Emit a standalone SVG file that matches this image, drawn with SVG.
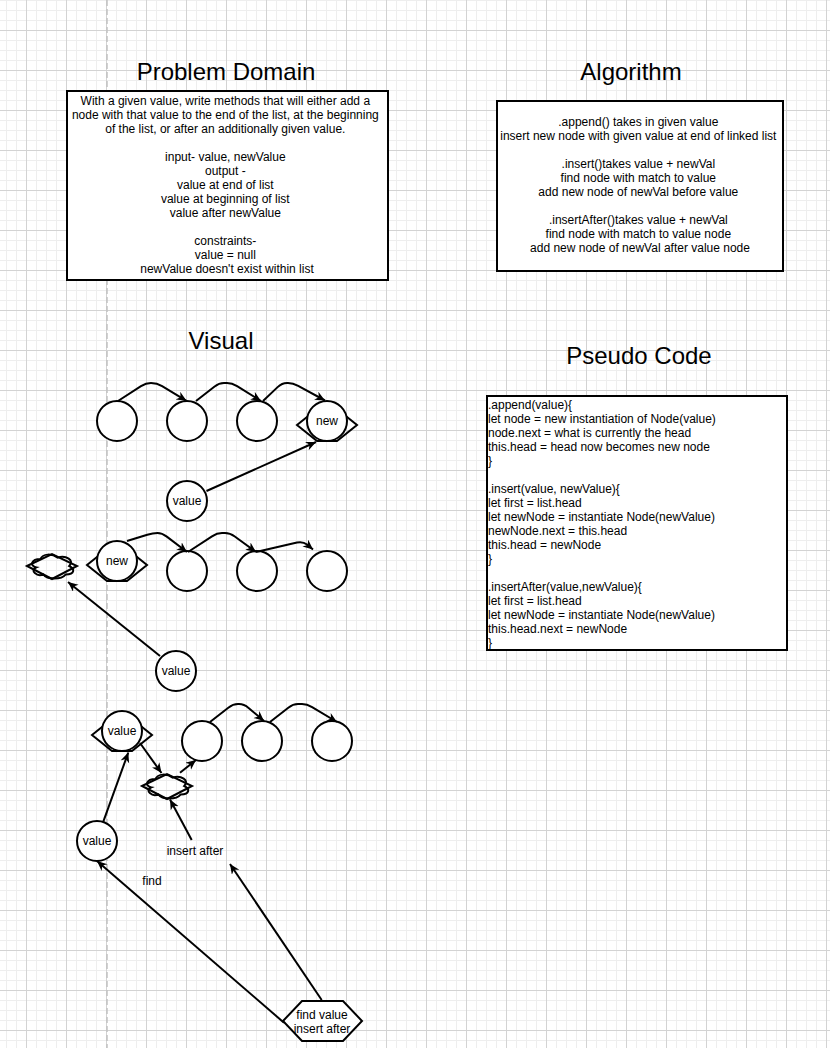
<svg xmlns="http://www.w3.org/2000/svg" width="830" height="1048" viewBox="0 0 830 1048">
<style>
text{font-family:"Liberation Sans",Arial,Helvetica,sans-serif;fill:#000}
.t{font-size:24px;text-anchor:middle}
.b{font-size:12px;text-anchor:middle}
.l{font-size:12px;text-anchor:start}
.box{fill:#fff;stroke:#000;stroke-width:2}
.n{fill:#fff;stroke:#000;stroke-width:2}
.e{fill:none;stroke:#000;stroke-width:2}
.a{fill:none;stroke:#000;stroke-width:2;marker-end:url(#arr)}
</style>
<defs>
<pattern id="grid" width="40" height="40" patternUnits="userSpaceOnUse" x="26" y="30">
<rect width="40" height="40" fill="#fff"/>
<path d="M10.5,0V40M20.5,0V40M30.5,0V40M0,10.5H40M0,20.5H40M0,30.5H40" stroke="#eeeeee" stroke-width="1"/>
<path d="M0.5,0V40M0,0.5H40" stroke="#d3d3d3" stroke-width="1"/>
</pattern>
<marker id="arr" markerUnits="userSpaceOnUse" markerWidth="12" markerHeight="10" refX="10" refY="4.5" orient="auto">
<path d="M0,0 L10,4.5 L0,9 L3,4.5 Z" fill="#000"/>
</marker>
<g id="hex">
<polygon class="e" points="-30,4 -10,-12 10,-12 30,4 10,20 -10,20" fill="#fff"/>
</g>
<g id="cloudrh">
<path class="e" fill="#fff" d="M-11.5,-7 C-20.7,-7 -23,0 -15.6,1.4 C-23,4.5 -14.7,11.2 -8.7,8.4 C-4.6,14 9.2,14 13.8,8.4 C23,8.4 23,2.8 17.25,0 C23,-5.6 13.8,-11.2 5.75,-8.4 C0,-12.6 -9.2,-12.6 -11.5,-7 Z"/>
<polygon class="e" points="-25,0 0,-12 25,0 0,13"/>
</g>
</defs>
<rect width="830" height="1048" fill="url(#grid)"/>
<line x1="107" y1="0" x2="107" y2="1048" stroke="#c2c2c2" stroke-width="1.5" stroke-dasharray="6 3"/>

<g id="titles">
<text class="t" x="226" y="80">Problem Domain</text>
<text class="t" x="631" y="80">Algorithm</text>
<text class="t" x="221" y="349">Visual</text>
<text class="t" x="639" y="364">Pseudo Code</text>
</g>

<g id="problem-domain">
<rect class="box" x="67" y="91" width="321" height="189"/>
<text class="b" x="227">
<tspan x="227" y="105">With a given value, write methods that will either add a</tspan>
<tspan x="227" y="119">node with that value to the end of the list, at the beginning</tspan>
<tspan x="227" y="133">of the list, or after an additionally given value.</tspan>
<tspan x="227" y="161">input- value, newValue</tspan>
<tspan x="227" y="175">output -</tspan>
<tspan x="227" y="189">value at end of list</tspan>
<tspan x="227" y="203">value at beginning of list</tspan>
<tspan x="227" y="217">value after newValue</tspan>
<tspan x="227" y="245">constraints-</tspan>
<tspan x="227" y="259">value = null</tspan>
<tspan x="227" y="273">newValue doesn't exist within list</tspan>
</text>
</g>

<g id="algorithm">
<rect class="box" x="497" y="101" width="286" height="170"/>
<text class="b">
<tspan x="640" y="126">.append() takes in given value</tspan>
<tspan x="640" y="140">insert new node with given value at end of linked list</tspan>
<tspan x="640" y="168">.insert()takes value + newVal</tspan>
<tspan x="640" y="182">find node with match to value</tspan>
<tspan x="640" y="196">add new node of newVal before value</tspan>
<tspan x="640" y="224">.insertAfter()takes value + newVal</tspan>
<tspan x="640" y="238">find node with match to value node</tspan>
<tspan x="640" y="252">add new node of newVal after value node</tspan>
</text>
</g>

<g id="pseudo-code">
<rect class="box" x="487" y="396" width="300" height="254"/>
<text class="l">
<tspan x="488" y="409">.append(value){</tspan>
<tspan x="488" y="423">let node = new instantiation of Node(value)</tspan>
<tspan x="488" y="437">node.next = what is currently the head</tspan>
<tspan x="488" y="451">this.head = head now becomes new node</tspan>
<tspan x="488" y="465">}</tspan>
<tspan x="488" y="493">.insert(value, newValue){</tspan>
<tspan x="488" y="507">let first = list.head</tspan>
<tspan x="488" y="521">let newNode = instantiate Node(newValue)</tspan>
<tspan x="488" y="535">newNode.next = this.head</tspan>
<tspan x="488" y="549">this.head = newNode</tspan>
<tspan x="488" y="563">}</tspan>
<tspan x="488" y="591">.insertAfter(value,newValue){</tspan>
<tspan x="488" y="605">let first = list.head</tspan>
<tspan x="488" y="619">let newNode = instantiate Node(newValue)</tspan>
<tspan x="488" y="633">this.head.next = newNode</tspan>
<tspan x="488" y="647">}</tspan>
</text>
</g>

<g id="row1">
<g id="r1n1"><circle class="n" cx="117" cy="421" r="20"/></g>
<g id="r1n2"><circle class="n" cx="187" cy="421" r="20"/></g>
<g id="r1n3"><circle class="n" cx="257" cy="421" r="20"/></g>
<g id="r1new"><use href="#hex" x="327" y="421"/><circle class="n" cx="327" cy="421" r="20"/><text class="b" x="327" y="425">new</text></g>
<g id="r1value"><circle class="n" cx="187" cy="501" r="20"/><text class="b" x="187" y="505">value</text></g>
</g>

<g id="row2">
<g id="r2cloud"><use href="#cloudrh" x="52" y="566"/></g>
<g id="r2new"><use href="#hex" x="117" y="561"/><circle class="n" cx="117" cy="561" r="20"/><text class="b" x="117" y="565">new</text></g>
<g id="r2n2"><circle class="n" cx="187" cy="571" r="20"/></g>
<g id="r2n3"><circle class="n" cx="257" cy="571" r="20"/></g>
<g id="r2n4"><circle class="n" cx="327" cy="571" r="20"/></g>
<g id="r2value"><circle class="n" cx="176" cy="671" r="20"/><text class="b" x="176" y="675">value</text></g>
</g>

<g id="row3">
<g id="r3value"><use href="#hex" x="122" y="731"/><circle class="n" cx="122" cy="731" r="20"/><text class="b" x="122" y="735">value</text></g>
<g id="r3n1"><circle class="n" cx="202" cy="741" r="20"/></g>
<g id="r3n2"><circle class="n" cx="262" cy="741" r="20"/></g>
<g id="r3n3"><circle class="n" cx="332" cy="741" r="20"/></g>
<g id="r3cloud"><use href="#cloudrh" x="167" y="786"/></g>
<g id="r3value2"><circle class="n" cx="97" cy="841" r="20"/><text class="b" x="97" y="845">value</text></g>
<g id="lbl-insert-after"><text class="b" x="195" y="855">insert after</text></g>
<g id="lbl-find"><text class="b" x="152" y="885">find</text></g>
<g id="find-hex"><polygon class="n" points="283,1021 302,1001 343,1001 362,1021 343,1041 302,1041"/>
<text class="b"><tspan x="322" y="1019">find value</tspan><tspan x="322" y="1033">insert after</tspan></text></g>
</g>

<g id="connectors">
<path class="a" d="M118,401 L141,386.2 Q146,383 151,383 Q157,383 162.1,386.1 L186.5,400.8"/>
<path class="a" d="M196,401 L214.3,386.7 Q219,383 224,383 L227,383 Q232,383 237.1,386.2 L261,401"/>
<path class="a" d="M263,401 L277.6,387.1 Q282,383 287,383 L288,383 Q293,383 298.2,385.9 L325,400.5"/>
<path class="a" d="M206.5,491 L316,442"/>
<path class="a" d="M127,541 L147.3,534.8 Q153,533 157.5,533 Q162,533 166.8,536.6 L187,552"/>
<path class="a" d="M188,552 L212,536.3 Q217,533 222,533 L225,533 Q230,533 234.8,536.5 L256,552"/>
<path class="a" d="M256,552 L297,542.5 Q303,541.3 307,544.5 L313,549.5"/>
<path class="a" d="M160,656 L68,582"/>
<path class="a" d="M210,722 L228.3,707.7 Q233,704 238,704 L239,704 Q244,704 248.6,707.9 L264,721"/>
<path class="a" d="M270,722 L288.3,707.7 Q293,704 298,704 L302,704 Q307,704 312.1,707.1 L337,722"/>
<path class="a" d="M140,743 L161.5,773"/>
<path class="a" d="M180,772.7 L196,760"/>
<path class="a" d="M191.7,840 L170,799.5"/>
<path class="a" d="M103.3,821.7 L128.3,752.5"/>
<path class="a" d="M284,1022.7 L97,861"/>
<path class="a" d="M321.7,1000 L230,864"/>
</g>
</svg>
